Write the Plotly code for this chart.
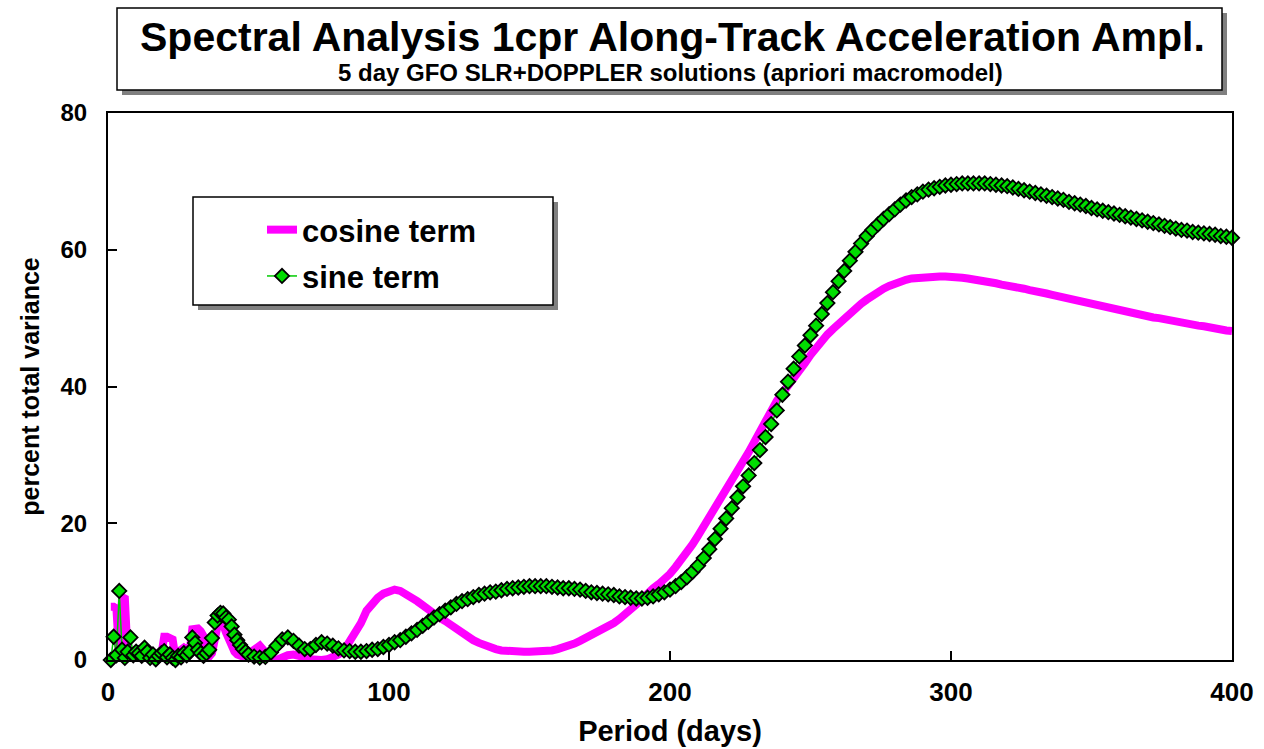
import plotly.graph_objects as go

# ---------------- data ----------------
# noisy short-period region, 1-day step
period_short = list(range(1, 51))
cosine_short = [7.8, 7.8, 7.5, 0.5, 9.2, 9.0, 0.5, 0.8, 0.3, 0.5,
                0.2, 0.6, 0.3, 0.5, 0.2, 0.3, 0.2, 0.5, 0.8, 3.4,
                3.4, 3.3, 3.0, 0.3, 0.5, 1.5, 1.8, 1.5, 1.0, 4.5,
                4.7, 4.6, 4.2, 3.5, 1.0, 0.5, 1.0, 4.0, 5.0, 5.4,
                5.2, 4.0, 2.8, 1.9, 1.2, 0.8, 0.6, 0.5, 0.6, 0.8]
sine_short = [0.0, 3.4, 0.7, 10.1, 1.5, 0.3, 1.2, 3.3, 0.7, 1.2,
              1.0, 0.6, 1.8, 1.2, 0.3, 0.8, 0.1, 0.6, 1.0, 1.3,
              0.4, 0.8, 0.3, 0.0, 0.6, 0.4, 1.0, 0.7, 1.2, 3.3,
              2.5, 1.5, 1.0, 0.6, 1.0, 1.5, 3.2, 5.5, 6.5, 6.9,
              6.8, 6.2, 5.9, 4.9, 3.7, 2.9, 2.2, 1.6, 1.2, 0.8]

# smooth long-period region, 2-day step (52 .. 400)
period_long = list(range(52, 401, 2))
cosine_long = [1.5, 2.1, 1.0, 0.2, 0.0, 0.4, 0.7, 0.8, 0.7, 0.4,
               0.1, 0.0, 0.0, 0.1, 0.4, 0.8, 1.4, 2.6, 3.9, 5.4,
               7.2, 8.2, 9.1, 9.7, 10.1, 10.3, 10.1, 9.7, 9.2, 8.6,
               8.0, 7.3, 6.8, 6.2, 5.7, 5.1, 4.5, 3.9, 3.4, 2.9,
               2.5, 2.1, 1.8, 1.6, 1.4, 1.3, 1.2, 1.2, 1.2, 1.2,
               1.2, 1.2, 1.3, 1.4, 1.6, 1.8, 2.1, 2.4, 2.8, 3.2,
               3.6, 4.0, 4.4, 4.9, 5.4, 6.0, 6.6, 7.3, 8.1, 8.9,
               9.8, 10.5, 11.1, 11.8, 12.6, 13.6, 14.6, 15.7, 16.9, 18.2,
               19.5, 20.9, 22.2, 23.6, 24.9, 26.1, 27.5, 28.9, 30.4, 31.9,
               33.5, 35.1, 36.6, 37.9, 39.0, 40.0, 41.1, 42.2, 43.4, 44.6,
               45.7, 46.7, 47.6, 48.4, 49.2, 50.0, 50.7, 51.4, 52.1, 52.7,
               53.3, 53.8, 54.3, 54.7, 55.1, 55.4, 55.6, 55.8, 55.9, 56.0,
               56.1, 56.1, 56.1, 56.1, 56.1, 56.0, 55.9, 55.8, 55.7, 55.6,
               55.4, 55.3, 55.1, 54.9, 54.8, 54.6, 54.4, 54.3, 54.1, 54.0,
               53.8, 53.6, 53.4, 53.2, 53.0, 52.8, 52.6, 52.4, 52.2, 52.0,
               51.8, 51.6, 51.5, 51.3, 51.1, 50.9, 50.8, 50.6, 50.4, 50.3,
               50.1, 50.0, 49.8, 49.6, 49.5, 49.3, 49.2, 49.0, 48.9, 48.8,
               48.6, 48.5, 48.4, 48.2, 48.1]
sine_long = [0.5, 0.35, 0.45, 1.1, 2.1, 3.0, 3.3, 2.8, 2.1, 1.6,
             1.6, 2.2, 2.6, 2.4, 2.1, 1.7, 1.4, 1.3, 1.2, 1.2,
             1.3, 1.5, 1.6, 1.9, 2.2, 2.6, 2.9, 3.4, 3.9, 4.4,
             5.0, 5.6, 6.2, 6.7, 7.2, 7.7, 8.2, 8.6, 8.9, 9.2,
             9.5, 9.7, 9.9, 10.0, 10.2, 10.4, 10.5, 10.6, 10.7, 10.8,
             10.8, 10.8, 10.8, 10.7, 10.6, 10.5, 10.5, 10.4, 10.3, 10.1,
             9.9, 9.8, 9.7, 9.6, 9.5, 9.3, 9.2, 9.1, 9.0, 9.0,
             9.1, 9.3, 9.6, 9.9, 10.3, 10.8, 11.4, 12.1, 12.9, 13.8,
             14.9, 16.2, 17.7, 19.2, 20.7, 22.2, 23.8, 25.4, 27.0, 28.8,
             30.7, 32.6, 34.5, 36.5, 38.8, 40.7, 42.6, 44.4, 46.0, 47.5,
             48.9, 50.6, 52.2, 53.8, 55.4, 56.9, 58.4, 59.7, 60.9, 62.0,
             62.9, 63.7, 64.5, 65.2, 65.9, 66.6, 67.2, 67.7, 68.1, 68.5,
             68.8, 69.0, 69.2, 69.4, 69.5, 69.6, 69.7, 69.7, 69.7, 69.7,
             69.7, 69.6, 69.5, 69.4, 69.3, 69.1, 68.9, 68.7, 68.5, 68.3,
             68.1, 67.9, 67.7, 67.5, 67.3, 67.0, 66.8, 66.6, 66.4, 66.1,
             65.9, 65.7, 65.5, 65.3, 65.1, 64.9, 64.7, 64.5, 64.3, 64.1,
             63.9, 63.7, 63.5, 63.3, 63.1, 62.9, 62.8, 62.6, 62.5, 62.4,
             62.3, 62.2, 62.0, 61.9, 61.75]

period = period_short + period_long
cosine = cosine_short + cosine_long
sine = sine_short + sine_long

x_ticks = [0, 100, 200, 300, 400]
y_ticks = [0, 20, 40, 60, 80]

title_text = "Spectral Analysis 1cpr Along-Track Acceleration Ampl."
subtitle_text = "5 day GFO SLR+DOPPLER solutions (apriori macromodel)"

# ---------------- layout helpers ----------------
W, H = 1264, 749
L, R, T, B = 108, 1232, 113, 660


def px(xp):
    return (xp - L) / (R - L)


def py(yp):
    return (B - yp) / (B - T)


FONT = "Liberation Sans, Arial, sans-serif"

fig = go.Figure()
fig.add_trace(go.Scatter(
    x=period, y=cosine, mode="lines", name="cosine term",
    line=dict(color="#FF00FF", width=8), cliponaxis=False,
    legendgroup="c"))
fig.add_trace(go.Scatter(
    x=period, y=sine, mode="lines+markers", name="sine term",
    line=dict(color="#00CC00", width=1.5),
    marker=dict(symbol="diamond", size=11, color="#00DD00",
                line=dict(color="black", width=1.8)),
    cliponaxis=False, legendgroup="s"))

shapes = []
# title box with shadow
shapes.append(dict(type="rect", xref="paper", yref="paper",
                   x0=px(122), x1=px(1227), y0=py(95), y1=py(13),
                   fillcolor="#808080", line=dict(width=0), layer="below"))
shapes.append(dict(type="rect", xref="paper", yref="paper",
                   x0=px(117), x1=px(1222), y0=py(90), y1=py(8),
                   fillcolor="white", line=dict(color="black", width=1.5), layer="below"))
# legend box with shadow
shapes.append(dict(type="rect", xref="paper", yref="paper",
                   x0=px(198), x1=px(558), y0=py(310), y1=py(202),
                   fillcolor="#808080", line=dict(width=0), layer="below"))
shapes.append(dict(type="rect", xref="paper", yref="paper",
                   x0=px(193), x1=px(553), y0=py(305), y1=py(197),
                   fillcolor="white", line=dict(color="black", width=1.5), layer="below"))

annotations = [
    dict(text=title_text, xref="paper", yref="paper", x=px(672), y=py(37),
         showarrow=False, xanchor="center", yanchor="middle",
         font=dict(family=FONT, size=41, color="black", weight="bold")),
    dict(text=subtitle_text, xref="paper", yref="paper", x=px(670), y=py(73),
         showarrow=False, xanchor="center", yanchor="middle",
         font=dict(family=FONT, size=24, color="black", weight="bold")),
]

axis_common = dict(showline=True, linecolor="black", linewidth=2, mirror=True,
                   ticks="inside", ticklen=9, tickwidth=1.5, tickcolor="black",
                   showgrid=False, zeroline=False, automargin=False)

fig.update_layout(
    width=W, height=H,
    margin=dict(l=L, r=W - R, t=T, b=H - B),
    paper_bgcolor="white", plot_bgcolor="white",
    showlegend=True,
    legend=dict(x=px(262), y=py(203), xanchor="left", yanchor="top",
                bgcolor="rgba(0,0,0,0)", borderwidth=0,
                font=dict(family=FONT, size=31, color="black", weight="bold"),
                tracegroupgap=3, itemwidth=30),
    xaxis=dict(range=[0, 400], tickvals=x_ticks,
               tickfont=dict(family=FONT, size=26, color="black", weight="bold"),
               title=dict(text="Period (days)", standoff=14,
                          font=dict(family=FONT, size=29, color="black", weight="bold")),
               ticklabelstandoff=8, **axis_common),
    yaxis=dict(range=[0, 80], tickvals=y_ticks,
               tickfont=dict(family=FONT, size=24, color="black", weight="bold"),
               title=dict(text="percent total variance", standoff=14,
                          font=dict(family=FONT, size=25, color="black", weight="bold")),
               ticklabelstandoff=14, **axis_common),
    shapes=shapes, annotations=annotations,
)

fig.write_html("out.html")
